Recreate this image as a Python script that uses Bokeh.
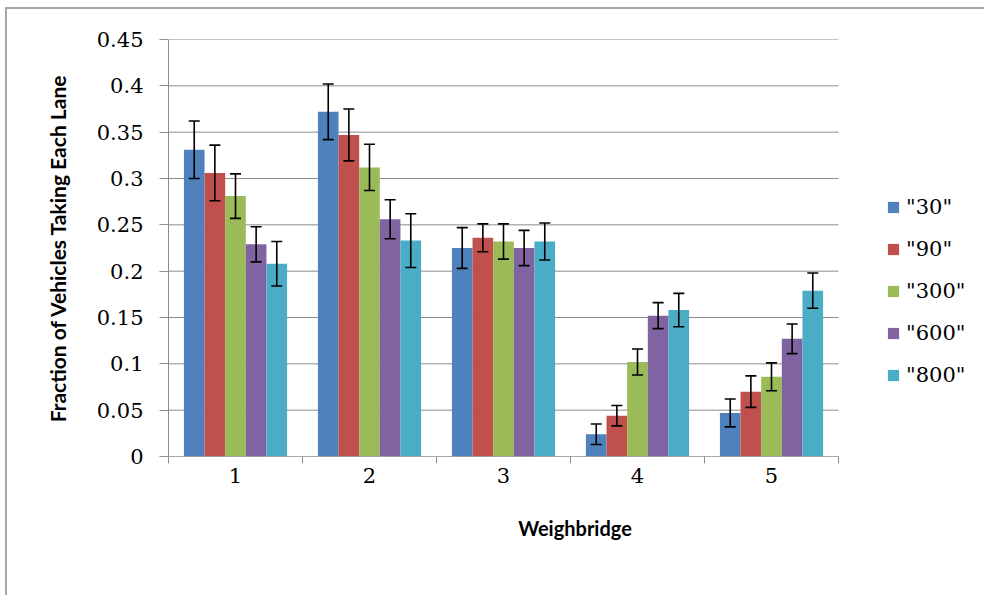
from bokeh.plotting import figure
from bokeh.models import (ColumnDataSource, FixedTicker, Legend, LegendItem,
                          Whisker, TeeHead, Range1d)
from bokeh.transform import dodge
from bokeh.embed import file_html
from bokeh.resources import INLINE

groups = [1, 2, 3, 4, 5]
group_labels = ["1", "2", "3", "4", "5"]
series_names = ['"30"', '"90"', '"300"', '"600"', '"800"']
s30 = [0.331, 0.372, 0.225, 0.024, 0.047]
s30_err = [0.031, 0.030, 0.022, 0.011, 0.015]
s90 = [0.306, 0.347, 0.236, 0.044, 0.070]
s90_err = [0.030, 0.028, 0.015, 0.011, 0.017]
s300 = [0.281, 0.312, 0.232, 0.102, 0.086]
s300_err = [0.024, 0.025, 0.019, 0.014, 0.015]
s600 = [0.229, 0.256, 0.225, 0.152, 0.127]
s600_err = [0.019, 0.021, 0.019, 0.014, 0.016]
s800 = [0.208, 0.233, 0.232, 0.158, 0.179]
s800_err = [0.024, 0.029, 0.020, 0.018, 0.019]
y_ticks = [0, 0.05, 0.1, 0.15, 0.2, 0.25, 0.3, 0.35, 0.4, 0.45]
y_tick_labels = ["0", "0.05", "0.1", "0.15", "0.2", "0.25", "0.3", "0.35", "0.4", "0.45"]

values = [s30, s90, s300, s600, s800]
errors = [s30_err, s90_err, s300_err, s600_err, s800_err]
colors = ["#4F81BD", "#C0504D", "#9BBB59", "#8064A2", "#4BACC6"]

SERIF = "DejaVu Serif"
SANS = "Lato"
GRAY = "#8c8c8c"

W, H = 979, 588
ML, MR, MT, MB = 161, 5, 30, 141
PLOT_PX = 670  # pixel width of the category area (groups 1..5)
x0, x1 = groups[0] - 0.5, groups[-1] + 0.5
frame_w = W - ML - MR
x_end = x0 + (x1 - x0) * frame_w / PLOT_PX

p = figure(width=W, height=H, output_backend="svg", toolbar_location=None,
           x_range=Range1d(x0, x_end), y_range=Range1d(0, 0.45),
           min_border_left=ML, min_border_right=MR, min_border_top=MT,
           min_border_bottom=MB, outline_line_color=None,
           background_fill_color="white", border_fill_color="white")
p.styles = {"border-top": "2px solid #a6a6a6", "border-left": "2px solid #a6a6a6",
            "margin-left": "5px", "margin-top": "7px"}

# horizontal gridlines limited to the category area
p.segment(x0=[x0] * len(y_ticks), x1=[x1] * len(y_ticks), y0=y_ticks, y1=y_ticks,
          line_color=GRAY, line_width=1, level="underlay")

bw = 0.154
items = []
for j, (name, vals, errs, col) in enumerate(zip(series_names, values, errors, colors)):
    off = (j - 2) * bw
    src = ColumnDataSource(dict(
        g=groups, v=vals,
        up=[a + b for a, b in zip(vals, errs)],
        lo=[a - b for a, b in zip(vals, errs)]))
    r = p.vbar(x=dodge("g", off, range=p.x_range), top="v", width=bw, bottom=0,
               source=src, fill_color=col, line_color=None)
    w = Whisker(source=src, base=dodge("g", off, range=p.x_range), upper="up", lower="lo",
                line_color="black", line_width=1.6, level="annotation",
                upper_head=TeeHead(size=11, line_color="black", line_width=1.6),
                lower_head=TeeHead(size=11, line_color="black", line_width=1.6))
    p.add_layout(w)
    items.append(LegendItem(label=name, renderers=[r]))

# x axis baseline limited to the category area
p.segment(x0=[x0], x1=[x1], y0=[0], y1=[0], line_color=GRAY, line_width=1.2)

# x axis
p.xaxis.ticker = FixedTicker(ticks=groups, minor_ticks=[g - 0.5 for g in groups] + [x1])
p.xaxis.major_label_overrides = {g: l for g, l in zip(groups, group_labels)}
p.xaxis.major_tick_line_color = None
p.xaxis.minor_tick_line_color = GRAY
p.xaxis.minor_tick_in = 0
p.xaxis.minor_tick_out = 7
p.xaxis.axis_line_color = None
p.xaxis.major_label_text_font = SERIF
p.xaxis.major_label_text_font_size = "21px"
p.xaxis.major_label_text_color = "black"
p.xaxis.major_label_standoff = 4
p.xaxis.axis_label = "Weighbridge"
p.xaxis.axis_label_text_font = SANS
p.xaxis.axis_label_text_font_style = "bold"
p.xaxis.axis_label_text_font_size = "20px"
p.xaxis.axis_label_text_color = "black"
p.xaxis.axis_label_standoff = 30

# y axis
p.yaxis.ticker = FixedTicker(ticks=y_ticks, minor_ticks=[])
p.yaxis.major_label_overrides = {t: l for t, l in zip(y_ticks, y_tick_labels)}
p.yaxis.major_tick_line_color = GRAY
p.yaxis.major_tick_in = 0
p.yaxis.major_tick_out = 9
p.yaxis.axis_line_color = GRAY
p.yaxis.major_label_text_font = SERIF
p.yaxis.major_label_text_font_size = "21px"
p.yaxis.major_label_text_color = "black"
p.yaxis.major_label_standoff = 16
p.yaxis.axis_label = "Fraction of Vehicles Taking Each Lane"
p.yaxis.axis_label_text_font = SANS
p.yaxis.axis_label_text_font_style = "bold"
p.yaxis.axis_label_text_font_size = "21px"
p.yaxis.axis_label_text_color = "black"
p.yaxis.axis_label_standoff = 24

p.xgrid.grid_line_color = None
p.ygrid.grid_line_color = None

legend = Legend(items=items, location=(718, 69), orientation="vertical",
                glyph_width=14, glyph_height=14, label_height=25, spacing=17,
                label_standoff=6, padding=0, margin=0,
                border_line_color=None, background_fill_alpha=0)
legend.label_text_font = SERIF
legend.label_text_font_size = "21px"
legend.label_text_color = "black"
p.add_layout(legend, "center")

open("out.html", "w").write(file_html(p, INLINE))
